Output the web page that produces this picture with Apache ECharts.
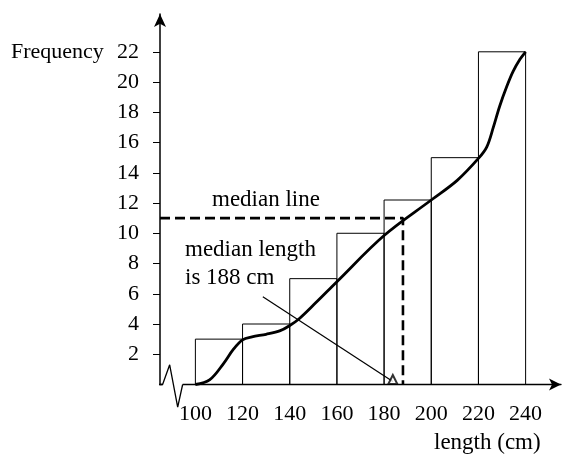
<!DOCTYPE html>
<html><head><meta charset="utf-8">
<script src="https://cdn.jsdelivr.net/npm/echarts@6/dist/echarts.min.js"></script>
<style>html,body{margin:0;padding:0;background:#fff}#c{width:563px;height:457px}</style>
</head><body><div id="c"></div>
<script>
// ---- data ----
const binStart = [100, 120, 140, 160, 180, 200, 220];
const binEnd   = [120, 140, 160, 180, 200, 220, 240];
const frequency = [3, 4, 7, 10, 12.2, 15, 22];
// hand-drawn smooth curve
const curveX = [100, 106, 112, 116, 120, 124, 130, 136, 140, 144, 151, 160, 180, 200, 211, 220, 223.5, 226.3, 229, 232, 234.7, 237.6, 240];
const curveY = [0, 0.3, 1.4, 2.3, 2.95, 3.15, 3.32, 3.56, 3.9, 4.35, 5.4, 6.8, 9.85, 12.2, 13.5, 14.95, 15.7, 17, 18.4, 19.7, 20.7, 21.5, 22];
const xTickLabels = [100, 120, 140, 160, 180, 200, 220, 240];
const yTickLabels = [2, 4, 6, 8, 10, 12, 14, 16, 18, 20, 22];
const medianLength = 188;
const medianFreq = 11;
const axisMinX = 85, axisMaxX = 255, axisMaxY = 24.5;
const pointerFrom = [128.6, 5.8];
const pointerTo = [183.7, 0.2];
const breakX = [80.7, 86.1, 89.1, 92.5, 94.6];
const breakY = [0, 0, 1.3, -1.5, 0];
const labels = { y: 'Frequency', x: 'length (cm)', median: 'median line', note1: 'median length', note2: 'is 188 cm' };

const FONT = '"Liberation Serif", "DejaVu Serif", serif';
const FS = 22;
const FS2 = 23;
const chart = echarts.init(document.getElementById('c'), null, { renderer: 'canvas' });

const bars = binStart.map((s, i) => [s, binEnd[i], frequency[i]]);
const curve = curveX.map((x, i) => [x, curveY[i]]);
const breakLine = breakX.map((x, i) => [x, breakY[i]]);

const option = {
  animation: false,
  backgroundColor: '#fff',
  grid: { left: 160, right: 2, top: 14, bottom: 72.5, containLabel: false, outerBoundsMode: 'none' },
  xAxis: {
    type: 'value', min: axisMinX, max: axisMaxX,
    axisLine: { show: true, lineStyle: { color: '#000', width: 1.3 }, symbol: ['none', 'arrow'], symbolSize: [9, 12] },
    axisTick: { show: false },
    splitLine: { show: false },
    axisLabel: { customValues: xTickLabels, color: '#000', fontFamily: FONT, fontSize: FS, margin: 19 }
  },
  yAxis: {
    type: 'value', min: 0, max: axisMaxY,
    axisLine: { show: true, onZero: false, lineStyle: { color: '#000', width: 1.5 }, symbol: ['none', 'arrow'], symbolSize: [9, 13] },
    axisTick: { show: true, customValues: yTickLabels, length: 7, lineStyle: { color: '#000', width: 1 } },
    splitLine: { show: false },
    axisLabel: { customValues: yTickLabels, color: '#000', fontFamily: FONT, fontSize: FS, margin: 21 }
  },
  series: [
    {
      type: 'custom',
      data: bars,
      encode: { x: [0, 1], y: 2 },
      renderItem: function (params, api) {
        const p0 = api.coord([api.value(0), api.value(2)]);
        const p1 = api.coord([api.value(1), 0]);
        return {
          type: 'rect',
          shape: { x: p0[0], y: p0[1], width: p1[0] - p0[0], height: p1[1] - p0[1] },
          style: { fill: 'rgba(0,0,0,0)', stroke: '#000', lineWidth: 1 }
        };
      },
      z: 1
    },
    {
      type: 'line', data: curve, smooth: 0.35, symbol: 'none',
      lineStyle: { color: '#000', width: 2.8 }, z: 3
    },
    {
      type: 'line', data: [[axisMinX, medianFreq], [medianLength, medianFreq], [medianLength, 0]],
      symbol: 'none', lineStyle: { color: '#000', width: 2.6, type: [10, 5] }, z: 4
    },
    {
      type: 'line', data: [pointerFrom, pointerTo], symbol: 'none',
      lineStyle: { color: '#000', width: 1.2 }, z: 4
    },
    {
      type: 'scatter', data: [pointerTo], symbol: 'emptyTriangle', symbolSize: 9, symbolOffset: [0, -2],
      itemStyle: { color: '#000', borderColor: '#000', borderWidth: 1.2 }, z: 5
    },
    {
      type: 'line', data: [[breakX[1], 0], [breakX[4], 0]], symbol: 'none', clip: false,
      lineStyle: { color: '#fff', width: 4 }, z: 5
    },
    {
      type: 'line', data: breakLine, symbol: 'none', clip: false,
      lineStyle: { color: '#000', width: 1.3 }, z: 6
    }
  ],
  graphic: [
    { type: 'text', left: 11, top: 41, style: { text: labels.y, font: FS + 'px ' + FONT, fill: '#000' } },
    { type: 'text', left: 434, top: 431, style: { text: labels.x, font: FS2 + 'px ' + FONT, fill: '#000' } },
    { type: 'text', left: 212, top: 188, style: { text: labels.median, font: FS2 + 'px ' + FONT, fill: '#000' } },
    { type: 'text', left: 185, top: 238, style: { text: labels.note1, font: FS2 + 'px ' + FONT, fill: '#000' } },
    { type: 'text', left: 185, top: 266, style: { text: labels.note2, font: FS2 + 'px ' + FONT, fill: '#000' } }
  ]
};
chart.setOption(option);
</script></body></html>
